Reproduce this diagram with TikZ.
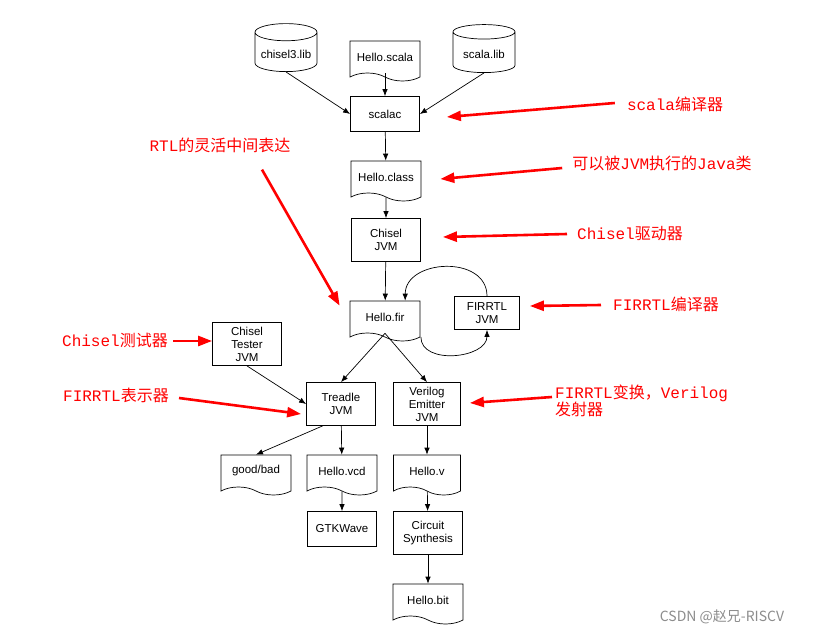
\documentclass[tikz,border=0pt]{standalone}
\usepackage{fontspec}
\setmainfont{Liberation Sans}
\newfontfamily\cjk{Noto Sans CJK SC}
\newfontfamily\mono{Liberation Mono}
\usepackage{tikz}
\usetikzlibrary{shapes.geometric}
\usetikzlibrary{shapes.symbols}
\usetikzlibrary{arrows.meta}
\usetikzlibrary{calc}
\newcommand{\zh}[1]{{\cjk #1}}
\tikzstyle{biblio}=[
        draw,
        cylinder,
        shape border rotate=90,
        aspect=0.3,
        minimum width=62pt,
        minimum height=48pt,
        line width=0.7pt
]
\tikzstyle{fichier}=[
        draw,
        tape,
        tape bend top=none,
        tape bend bottom=out and in,
        tape bend height=8pt,
        minimum width=70pt,
        minimum height=40pt,
        line width=0.7pt
]
\tikzstyle{outil}=[rectangle,draw,minimum width=69pt,minimum height=43pt,align=center,line width=0.8pt]
\tikzstyle{suite}=[-{Latex[length=7pt,width=5.5pt]},line width=0.7pt]
\tikzstyle{note}=[text=red,inner sep=0pt,align=left,font=\mono\fontsize{16}{17}\selectfont]
\tikzstyle{remarque}=[-{Triangle[length=14pt,width=10pt]},red,line width=2.6pt]

\begin{document}
\begin{tikzpicture}[x=1pt,y=-1pt,font=\fontsize{11.5}{13}\selectfont]
\useasboundingbox (0,0) rectangle (822,634);
\node[biblio] (chisel) at (286,54) {chisel3.lib};
\node[fichier] (hscala) at (385,57) {Hello.scala};
\node[biblio] (scalalib) at (484,54) {scala.lib};
\node[outil,minimum height=35pt] (scalac) at (385,114) {scalac};
\node[fichier] (hclass) at (386,177) {Hello.class};
\node[outil] (chiseljvm) at (386,240) {Chisel\\JVM};
\node[fichier] (hellofir) at (385,317) {Hello.fir};
\node[outil,minimum width=65pt,minimum height=33pt] (firrtl) at (487,313) {FIRRTL\\JVM};
\node[outil] (tester) at (247,344) {Chisel\\Tester\\JVM};
\node[outil] (treadle) at (341,404) {Treadle\\JVM};
\node[outil,minimum width=67pt] (verilog) at (427,404) {Verilog\\Emitter\\JVM};
\node[fichier] (goodbad) at (256,471) {good/bad};
\node[fichier] (hvcd) at (342,471) {Hello.vcd};
\node[fichier,minimum width=67pt] (hv) at (427,471) {Hello.v};
\node[outil,minimum height=35pt] (gtk) at (342,529) {GTKWave};
\node[outil] (synth) at (428,533) {Circuit\\Synthesis};
\node[fichier] (hbit) at (428,600) {Hello.bit};
%annotations
\node[note] (lscalac) at (675,104) {scala\zh{编译器}};
\node[note] (lclass) at (662,163) {\zh{可以被}JVM\zh{执行的}Java\zh{类}};
\node[note] (ljvm) at (630,234) {Chisel\zh{驱动器}};
\node[note] (lrtl) at (220,145) {RTL\zh{的灵活中间表达}};
\node[note] (lfirrtl) at (666,304) {FIRRTL\zh{编译器}};
\node[note] (ltester) at (115,340) {Chisel\zh{测试器}};
\node[note] (ltreadle) at (116,395) {FIRRTL\zh{表示器}};
\node[note,anchor=west] (lverilog) at (555,401) {FIRRTL\zh{变换，}Verilog\\\zh{发射器}};
\node[text=black!45,font=\cjk\fontsize{14}{16}\selectfont] (csdn) at (722,617) {CSDN @赵兄-RISCV};
%fleches
\draw[suite] (chisel.south) -- (scalac.west);
\draw[suite] (hscala.south) -- (scalac.north);
\draw[suite] (scalalib.south) -- (scalac.east);
\draw[suite] (scalac) -- (hclass);
\draw[suite] (hclass) -- (chiseljvm);
\draw[suite] (chiseljvm) -- (hellofir);
\draw[suite] (firrtl.north) to[out=90,in=90,looseness=1.3] (hellofir.39);
\draw[suite] (hellofir.-29) to[out=-90,in=-90,looseness=1.1] (firrtl.south);
\draw[suite] (hellofir.south) -- (treadle.north);
\draw[suite] (hellofir.south) -- (verilog.north);
\draw[suite] (tester.south) -- (treadle.west);
\draw[suite] (treadle.230) -- (goodbad.north);
\draw[suite] (treadle) -- (hvcd);
\draw[suite] (hvcd) -- (gtk);
\draw[suite] (verilog) -- (hv);
\draw[suite] (hv) -- (synth);
\draw[suite] (synth) -- (hbit);

\draw[remarque] ($(lscalac.west)+(-12,-1)$) -- ($(scalac.east)+(27,3)$);
\draw[remarque] ($(lclass.west)+(-10,5)$) -- ($(hclass.east)+(19,2)$);
\draw[remarque] ($(ljvm.west)+(-10,0)$) -- ($(chiseljvm.east)+(22,-3)$);
\draw[remarque] ($(lrtl.south)+(42,17)$) -- ($(hellofir.north west)+(-10,5)$);
\draw[remarque] ($(lfirrtl.west)+(-12,1)$) -- ($(firrtl.east)+(10,-7)$);
\draw[remarque] ($(ltester.east)+(5,1)$) -- ($(tester.west)+(0,-3)$);
\draw[remarque] ($(ltreadle.east)+(10,3)$) -- ($(treadle.west)+(-5,10)$);
\draw[remarque] ($(lverilog.west)+(-3,-4)$) -- ($(verilog.east)+(9,-1)$);
\end{tikzpicture}
\end{document}
